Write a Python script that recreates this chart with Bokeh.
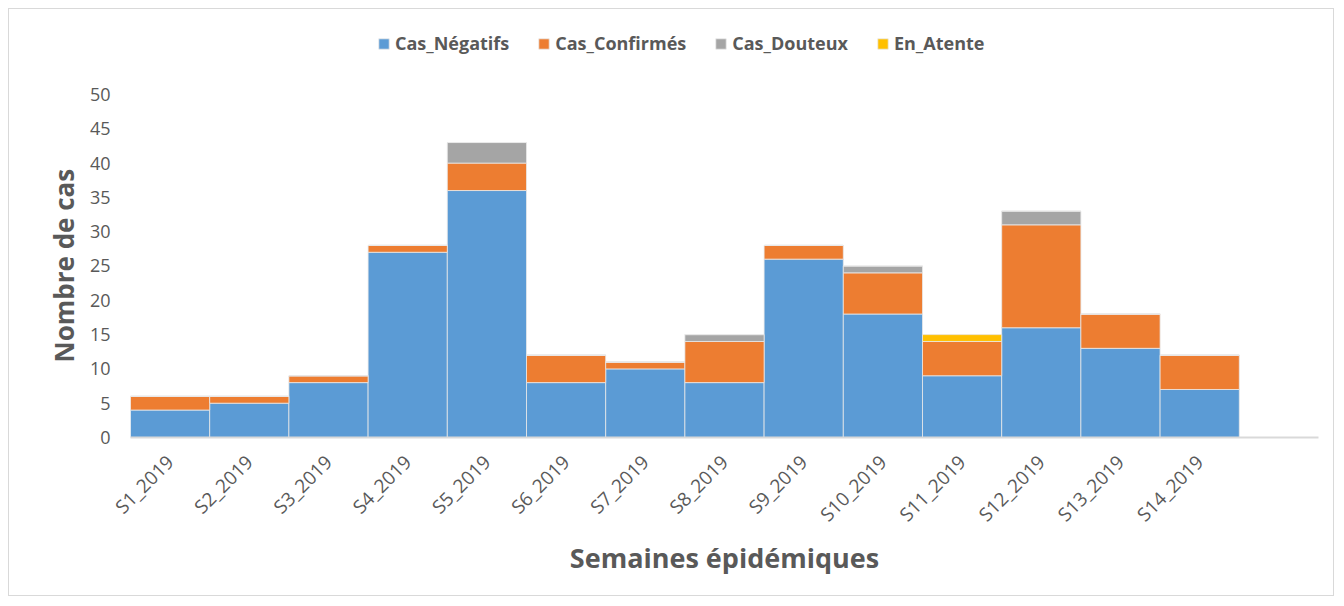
import math
from bokeh.plotting import figure
from bokeh.models import ColumnDataSource, Legend, LegendItem, FixedTicker, Title
from bokeh.embed import file_html
from bokeh.resources import INLINE

weeks = ["S1_2019", "S2_2019", "S3_2019", "S4_2019", "S5_2019", "S6_2019", "S7_2019",
         "S8_2019", "S9_2019", "S10_2019", "S11_2019", "S12_2019", "S13_2019", "S14_2019"]
cas_negatifs = [4, 5, 8, 27, 36, 8, 10, 8, 26, 18, 9, 16, 13, 7]
cas_confirmes = [2, 1, 1, 1, 4, 4, 1, 6, 2, 6, 5, 15, 5, 5]
cas_douteux = [0, 0, 0, 0, 3, 0, 0, 1, 0, 1, 0, 2, 0, 0]
en_attente = [0, 0, 0, 0, 0, 0, 0, 0, 0, 0, 1, 0, 0, 0]
series_names = ["Cas_Négatifs", "Cas_Confirmés", "Cas_Douteux", "En_Atente"]
colors = ["#5B9BD5", "#ED7D31", "#A5A5A5", "#FFC000"]
y_ticks = [0, 5, 10, 15, 20, 25, 30, 35, 40, 45, 50]

xs = [i + 0.5 for i in range(len(weeks))]
src = ColumnDataSource(dict(x=xs, neg=cas_negatifs, conf=cas_confirmes,
                            dout=cas_douteux, att=en_attente))

# frame extends above the 50 tick so the legend can sit inside it (no axis line shows it)
p = figure(width=1326, height=588, x_range=(0, 15), y_range=(0, 61.37),
           output_backend="svg", toolbar_location=None,
           min_border_left=121, min_border_right=17, min_border_top=7, min_border_bottom=160,
           styles={"border": "1px solid #d9d9d9"})
p.margin = (8, 0, 0, 8)
p.outline_line_color = None
p.xgrid.visible = False
p.ygrid.visible = False

renderers = p.vbar_stack(["neg", "conf", "dout", "att"], x="x", width=1.0, source=src,
                         color=colors, line_color="#e8e8e8", line_width=0.8)

font = "Open Sans"
p.yaxis.ticker = FixedTicker(ticks=y_ticks)
p.yaxis.axis_line_color = None
p.yaxis.major_tick_line_color = None
p.yaxis.minor_tick_line_color = None
p.yaxis.major_label_text_font = font
p.yaxis.major_label_text_font_size = "18px"
p.yaxis.major_label_text_color = "#595959"
p.yaxis.major_label_standoff = 14

ytitle = Title(text="Nombre de cas", align="left", offset=75, standoff=10,
               text_font=font, text_font_style="bold", text_font_size="26px",
               text_color="#595959")
p.add_layout(ytitle, "left")

p.xaxis.ticker = FixedTicker(ticks=xs)
p.xaxis.major_label_overrides = {x: w for x, w in zip(xs, weeks)}
p.xaxis.major_label_orientation = math.pi / 4
p.xaxis.axis_line_color = "#d9d9d9"
p.xaxis.axis_line_width = 2
p.xaxis.major_tick_line_color = None
p.xaxis.minor_tick_line_color = None
p.xaxis.major_label_text_font = font
p.xaxis.major_label_text_font_size = "19px"
p.xaxis.major_label_text_color = "#595959"
p.xaxis.major_label_standoff = 15
p.xaxis.axis_label = "Semaines épidémiques"
p.xaxis.axis_label_text_font = font
p.xaxis.axis_label_text_font_style = "bold"
p.xaxis.axis_label_text_font_size = "27px"
p.xaxis.axis_label_text_color = "#595959"
p.xaxis.axis_label_standoff = 0

items = [LegendItem(label=n, renderers=[r]) for n, r in zip(series_names, renderers)]
legend = Legend(items=items, orientation="horizontal", location=(247, 382),
                label_text_font=font, label_text_font_style="bold",
                label_text_font_size="18px", label_text_color="#595959",
                glyph_width=13, glyph_height=13, spacing=28, label_standoff=5,
                border_line_color=None, background_fill_alpha=0, padding=0, margin=0)
p.add_layout(legend, "center")

open("out.html", "w").write(file_html(p, INLINE))
